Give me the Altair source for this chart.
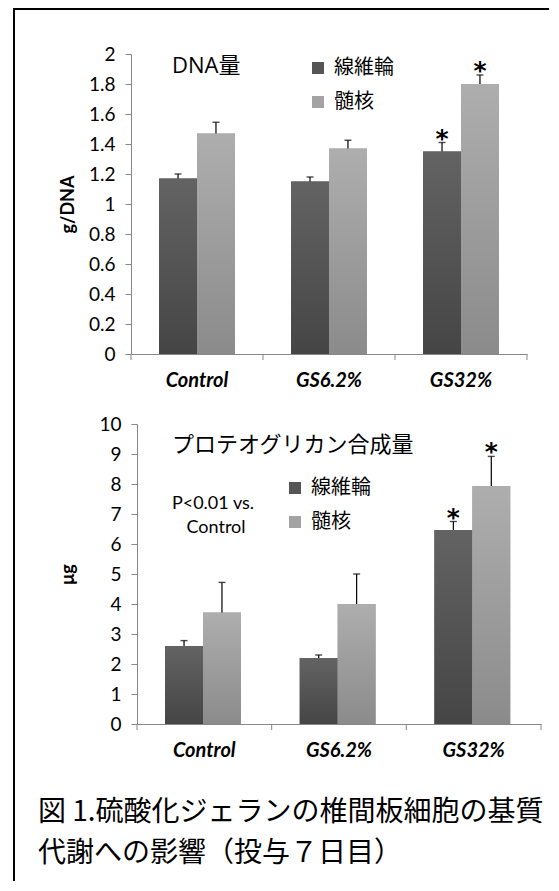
import altair as alt
import pandas as pd

categories = ["Control", "GS6.2%", "GS32%"]
series = ["線維輪", "髄核"]

# DNA量 (g/DNA)
dna_fib = [1.17, 1.15, 1.35]
dna_fib_upper = [1.20, 1.18, 1.41]
dna_np = [1.47, 1.37, 1.80]
dna_np_upper = [1.545, 1.425, 1.86]
dna_ticks = [0, 0.2, 0.4, 0.6, 0.8, 1, 1.2, 1.4, 1.6, 1.8, 2]

# プロテオグリカン合成量 (μg)
pg_fib = [2.60, 2.20, 6.47]
pg_fib_upper = [2.78, 2.30, 6.75]
pg_np = [3.72, 4.00, 7.93]
pg_np_upper = [4.72, 5.00, 8.92]
pg_ticks = [0, 1, 2, 3, 4, 5, 6, 7, 8, 9, 10]

sig_fib = ["", "", "*"]
sig_np = ["", "", "*"]

caption_lines = ["図 1.硫酸化ジェランの椎間板細胞の基質", "代謝への影響（投与７日目）"]

DARK = "#555555"
LIGHT = "#a3a3a3"
AXIS_GRAY = "#888888"
LATIN = "Lato"
CJK = "Noto Sans CJK JP"


def grad(top, bottom):
    return {"gradient": "linear", "x1": 0, "y1": 0, "x2": 0, "y2": 1,
            "stops": [{"offset": 0, "color": top}, {"offset": 1, "color": bottom}]}


def panel(fib, fib_up, npv, np_up, ymax, yticks, ytitle, title_x, pw, x0,
          legend_x, legend_y, texts, extra=None):
    H = 300
    df = pd.DataFrame({
        "category": categories * 2,
        "series": [series[0]] * 3 + [series[1]] * 3,
        "value": fib + npv,
        "upper": fib_up + np_up,
        "sig": sig_fib + sig_np,
    })
    yaxis = alt.Axis(values=yticks, format="~r", title=ytitle, titleX=title_x, titleY=150,
                     titleAngle=-90, titleBaseline="middle", titleAlign="center",
                     titleFont=LATIN, titleFontSize=18, titleFontWeight="bold", titleColor="#000",
                     labelFont=LATIN, labelFontSize=19, labelColor="#000", labelPadding=10,
                     tickSize=6, tickColor=AXIS_GRAY, domainColor=AXIS_GRAY, grid=False,
                     offset=-x0)
    xenc = alt.X("category:N", sort=categories,
                 scale=alt.Scale(range=[x0, pw], paddingInner=0, paddingOuter=0),
                 axis=alt.Axis(title=None, labelAngle=0, ticks=False, tickSize=0, labelPadding=16,
                               labelFont=LATIN, labelFontSize=20, labelFontWeight="bold",
                               labelFontStyle="italic", labelColor="#000",
                               domainColor=AXIS_GRAY, grid=False))
    xoff = alt.XOffset("series:N", sort=series, scale=alt.Scale(paddingInner=0, paddingOuter=0.74))
    yscale = alt.Scale(domain=[0, ymax], nice=False, zero=True)

    base = alt.Chart(df).encode(x=xenc, xOffset=xoff)

    bars = base.mark_bar().encode(
        y=alt.Y("value:Q", scale=yscale, axis=yaxis),
        color=alt.Color("series:N", sort=series,
                        scale=alt.Scale(domain=series, range=[DARK, LIGHT]),
                        legend=alt.Legend(orient="none", legendX=legend_x, legendY=legend_y,
                                          title=None, symbolType="square", symbolSize=144,
                                          symbolStrokeWidth=0, labelFont=CJK, labelFontSize=20,
                                          labelColor="#000", rowPadding=14, labelOffset=6,
                                          padding=0)),
    )
    bars_fib = base.transform_filter(alt.datum.series == series[0]).mark_bar(
        fill=grad("#636363", "#454545")).encode(y=alt.Y("value:Q", scale=yscale, axis=yaxis))
    bars_np = base.transform_filter(alt.datum.series == series[1]).mark_bar(
        fill=grad("#aeaeae", "#8b8b8b")).encode(y=alt.Y("value:Q", scale=yscale, axis=yaxis))

    err = base.mark_rule(color="#000", strokeWidth=1.2).encode(
        y=alt.Y("value:Q", scale=yscale, axis=yaxis), y2="upper:Q")
    cap = base.mark_tick(color="#000", thickness=1.4, size=7).encode(
        y=alt.Y("upper:Q", scale=yscale, axis=yaxis))
    star = base.transform_filter(alt.datum.sig != "").mark_text(
        font="DejaVu Sans", fontSize=25, fontWeight="bold", baseline="alphabetic", dy=4,
        color="#000").encode(y=alt.Y("upper:Q", scale=yscale, axis=yaxis), text="sig:N")

    cat_df = pd.DataFrame({"category": categories})
    ticks0 = alt.Chart(cat_df).mark_rule(color=AXIS_GRAY, strokeWidth=1).encode(
        x=alt.X("category:N", sort=categories, bandPosition=0),
        y=alt.value(H), y2=alt.value(H + 6))
    ticks1 = alt.Chart(cat_df).transform_filter(
        alt.datum.category == categories[-1]).mark_rule(color=AXIS_GRAY, strokeWidth=1).encode(
        x=alt.X("category:N", sort=categories, bandPosition=1),
        y=alt.value(H), y2=alt.value(H + 6))

    layers = [bars, bars_fib, bars_np, err, cap, star, ticks0, ticks1]
    for t, x, y, size, font, align in texts:
        layers.append(
            alt.Chart(pd.DataFrame({"t": [t]})).mark_text(
                font=font, fontSize=size, align=align, baseline="middle", color="#000"
            ).encode(text="t:N", x=alt.value(x), y=alt.value(y))
        )
    if extra:
        layers += extra
    return alt.layer(*layers).properties(width=pw, height=H)


frame_df = pd.DataFrame({"a": [0]})
frame_top = alt.Chart(frame_df).mark_rect(color="#000").encode(
    x=alt.value(-118), x2=alt.value(418), y=alt.value(-46), y2=alt.value(-44))
frame_left = alt.Chart(frame_df).mark_rect(color="#000").encode(
    x=alt.value(-118), x2=alt.value(-116), y=alt.value(-46), y2=alt.value(827))

top = panel(dna_fib, dna_fib_upper, dna_np, dna_np_upper, 2, dna_ticks, "g/DNA", -63, 396, 0,
            177, 4,
            [("DNA量", 41, 12, 22, "Open Sans, Noto Sans CJK JP", "left")],
            extra=[frame_top, frame_left])

bottom = panel(pg_fib, pg_fib_upper, pg_np, pg_np_upper, 10, pg_ticks, "μg", -69, 410, 6,
               154, 54,
               [("プロテオグリカン合成量", 41, 21, 22, CJK, "left"),
                ("P<0.01 vs.", 82, 80, 18, LATIN, "center"),
                ("Control", 85, 104, 18, LATIN, "center")])

cap_layers = []
for line, ypos in zip(caption_lines, [19, 60]):
    cap_layers.append(
        alt.Chart(pd.DataFrame({"line": [line]})).mark_text(
            font=CJK, fontSize=28, align="left", baseline="middle", color="#000"
        ).encode(text="line:N", x=alt.value(-93), y=alt.value(ypos))
    )
caption = alt.layer(*cap_layers).properties(width=396, height=80)

chart = alt.vconcat(top, bottom, caption, spacing=70, bounds="flush").resolve_scale(
    x="independent", y="independent", color="independent"
).resolve_legend(color="independent").properties(
    padding={"left": 5, "top": 0, "right": 0, "bottom": 0},
    background="white",
).configure_view(strokeWidth=0)

chart.save("out.html", embed_options={"renderer": "svg", "actions": False})
